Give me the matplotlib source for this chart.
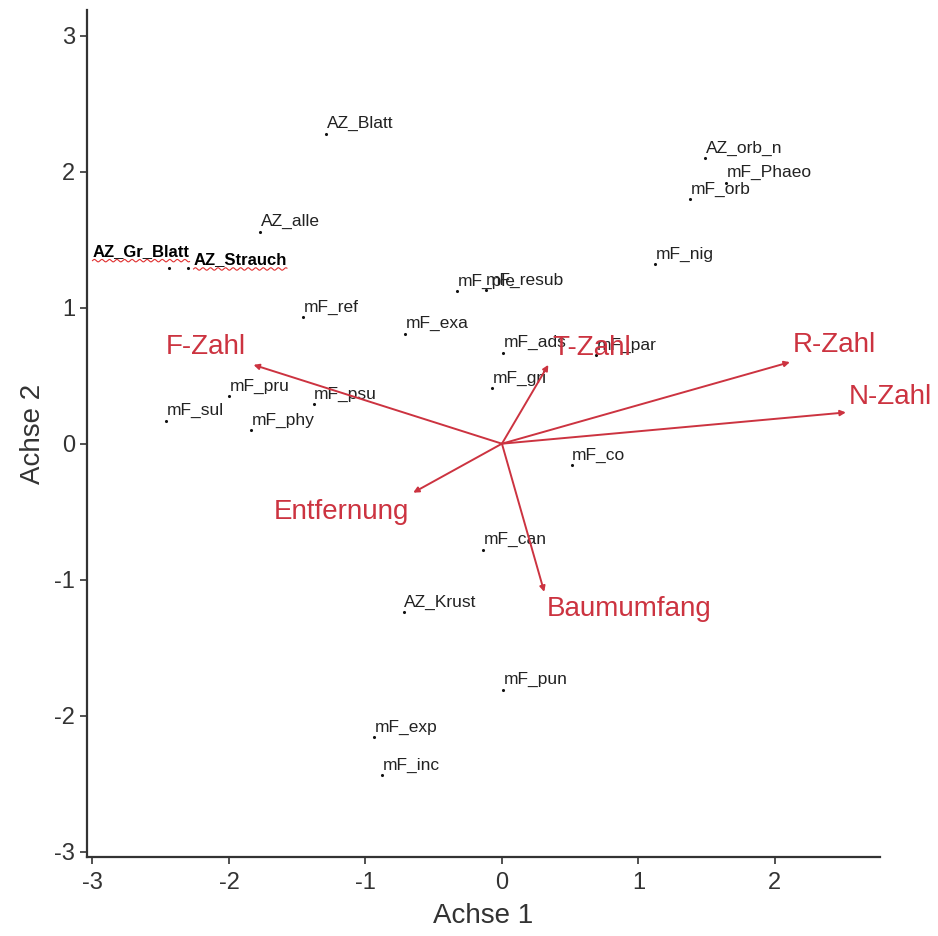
import numpy as np
import matplotlib
matplotlib.use("Agg")
import matplotlib.pyplot as plt

plt.rcParams['font.family'] = ['Liberation Sans', 'DejaVu Sans']

# ---- data ----
species = ["AZ_Blatt", "AZ_alle", "AZ_Gr_Blatt", "AZ_Strauch", "mF_ref",
           "AZ_orb_n", "mF_Phaeo", "mF_orb", "mF_nig", "mF_ple", "mF_resub",
           "mF_exa", "mF_ads", "mF_par", "mF_gri", "mF_pru", "mF_psu",
           "mF_sul", "mF_phy", "mF_co", "mF_can", "AZ_Krust", "mF_pun",
           "mF_exp", "mF_inc"]
sp_x = [-1.29, -1.77, -2.44, -2.30, -1.46, 1.49, 1.64, 1.38, 1.12, -0.33, -0.12,
        -0.71, 0.01, 0.69, -0.07, -2.00, -1.38, -2.46, -1.84, 0.51, -0.14, -0.72,
        0.01, -0.94, -0.88]
sp_y = [2.28, 1.56, 1.29, 1.29, 0.93, 2.10, 1.92, 1.80, 1.32, 1.12, 1.13,
        0.81, 0.67, 0.65, 0.41, 0.35, 0.29, 0.17, 0.10, -0.16, -0.78, -1.24,
        -1.81, -2.16, -2.44]

env = ["F-Zahl", "Entfernung", "T-Zahl", "R-Zahl", "N-Zahl", "Baumumfang"]
env_x = [-1.82, -0.65, 0.34, 2.11, 2.52, 0.31]
env_y = [0.58, -0.36, 0.58, 0.60, 0.23, -1.09]

xticks = [-3, -2, -1, 0, 1, 2]
yticks = [-3, -2, -1, 0, 1, 2, 3]

# ---- layout ----
W, H = 938, 936
fig = plt.figure(figsize=(W / 100, H / 100), dpi=100)
ax = fig.add_axes([87 / W, 1 - 857 / H, (880 - 87) / W, (857 - 10) / H])
ax.set_xlim(-3.04, 2.77)
ax.set_ylim(-3.04, 3.19)

axcol = '#333333'
for s in ['top', 'right']:
    ax.spines[s].set_visible(False)
for s in ['left', 'bottom']:
    ax.spines[s].set_color(axcol)
    ax.spines[s].set_linewidth(1.6)
ax.tick_params(direction='out', length=5, width=1.2, colors=axcol,
               labelsize=17, labelcolor='#333333')
ax.tick_params(axis='x', pad=6)
ax.set_xticks(xticks)
ax.set_xticklabels([str(t) for t in xticks])
ax.set_yticks(yticks)
ax.set_yticklabels([str(t) for t in yticks])
ax.set_xlabel("Achse 1", fontsize=20, color='#333333', labelpad=6)
ax.set_ylabel("Achse 2", fontsize=20, color='#333333', labelpad=6)

# species points
ax.scatter(sp_x, sp_y, s=5, color='#111111', zorder=3, linewidths=0)
special = {"AZ_Gr_Blatt": (-55, 12), "AZ_Strauch": (4, 6)}
special_texts = []
for name, x, y in zip(species, sp_x, sp_y):
    if name in special:
        t = ax.annotate(name, (x, y), xytext=special[name], textcoords='offset points',
                        fontsize=12, color='black', ha='left', va='center',
                        fontweight='bold', zorder=4)
        special_texts.append(t)
    else:
        ax.annotate(name, (x, y), xytext=(0.5, 4), textcoords='offset points',
                    fontsize=12.5, color='#222222', ha='left', va='baseline', zorder=4)

# environmental arrows
red = '#cc3340'
label_off = [(-34, 13), (-52, -14), (31, 12), (32, 12), (32, 11), (61, -12)]
for name, x, y, off in zip(env, env_x, env_y, label_off):
    ax.annotate('', xy=(x, y), xytext=(0, 0),
                arrowprops=dict(arrowstyle='-|>', color=red, lw=1.4,
                                mutation_scale=8, shrinkA=0, shrinkB=0),
                zorder=5)
    ax.annotate(name, (x, y), xytext=off, textcoords='offset points',
                fontsize=20, color=red, ha='center', va='center', zorder=6)

# red wavy spell-check underline under the two hand-typed labels
fig.canvas.draw()
r = fig.canvas.get_renderer()
for t in special_texts:
    bb = t.get_window_extent(r)
    xs = np.linspace(bb.x0, bb.x1, 200)
    ys = bb.y0 - 1.5 + 1.2 * np.sin((xs - bb.x0) / 1.2)
    pts = fig.transFigure.inverted().transform(np.column_stack([xs, ys]))
    fig.add_artist(plt.Line2D(pts[:, 0], pts[:, 1], color='#e03030', lw=0.8,
                              transform=fig.transFigure))

fig.savefig("out.png", dpi=100)
